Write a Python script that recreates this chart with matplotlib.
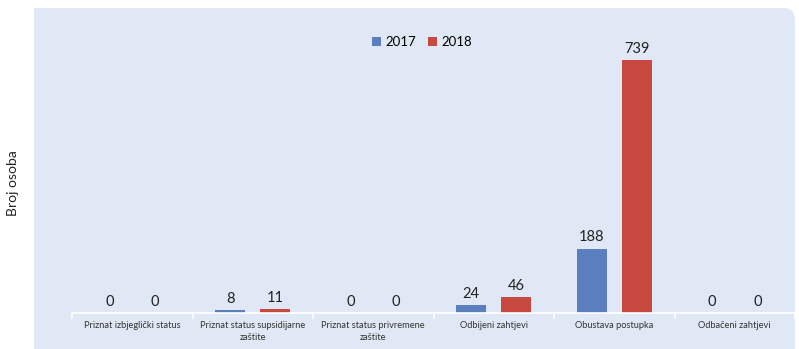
import matplotlib.pyplot as plt
import numpy as np
from matplotlib.patches import Rectangle, FancyBboxPatch
from matplotlib.transforms import IdentityTransform

categories = ['Priznat izbjeglički status', 'Priznat status supsidijarne\nzaštite',
              'Priznat status privremene\nzaštite', 'Odbijeni zahtjevi',
              'Obustava postupka', 'Odbačeni zahtjevi']
vals_2017 = [0, 8, 0, 24, 188, 0]
vals_2018 = [0, 11, 0, 46, 739, 0]
series = ['2017', '2018']
colors = ['#5B7EBE', '#C8493F']

W, H = 799, 349
fig = plt.figure(figsize=(W / 100, H / 100), dpi=100)
fig.patch.set_facecolor('white')

# light blue panel behind the chart (square on the left, rounded top-right corner)
panel_col = '#DFE8F4'
fig.add_artist(Rectangle((34, -20), 700 - 34, H - 8 + 20,
                         transform=IdentityTransform(), facecolor=panel_col,
                         edgecolor='none', zorder=-10))
fig.add_artist(FancyBboxPatch((600, -20), 795 - 600, H - 8 + 20,
                              boxstyle='round,pad=0,rounding_size=12',
                              transform=IdentityTransform(), facecolor=panel_col,
                              edgecolor='none', zorder=-10))

ax = fig.add_axes([72 / W, (H - 313) / H, (795 - 72) / W, (313 - 25) / H])
ax.set_facecolor('none')
ax.set_zorder(1)

x = np.arange(len(categories))
bw = 0.25
off = 0.187
b1 = ax.bar(x - off, vals_2017, bw, color=colors[0], label=series[0], zorder=2)
b2 = ax.bar(x + off, vals_2018, bw, color=colors[1], label=series[1], zorder=2)

for bars, vals in [(b1, vals_2017), (b2, vals_2018)]:
    for b, v in zip(bars, vals):
        ax.annotate(str(v), (b.get_x() + b.get_width() / 2, v),
                    xytext=(0, 3), textcoords='offset points',
                    ha='center', va='bottom', fontsize=10.5,
                    family='Lato', color='#222222')

ax.set_xlim(-0.5, len(categories) - 0.5)
ax.set_ylim(0, 841)
ax.set_yticks([])
for s in ['top', 'right', 'left']:
    ax.spines[s].set_visible(False)
ax.spines['bottom'].set_color('white')
ax.spines['bottom'].set_linewidth(1.2)

ax.set_xticks(x)
ax.set_xticklabels(categories, fontsize=6.7, family='Lato', color='#333333',
                   linespacing=1.35)
ax.tick_params(axis='x', which='major', length=0, pad=6)
ax.set_xticks(np.arange(-0.5, len(categories)), minor=True)
ax.tick_params(axis='x', which='minor', length=4, color='white', width=1.2)

fig.text(13 / W, 1 - 183 / H, 'Broj osoba', rotation=90, ha='center',
         va='center', fontsize=10, family='Lato', color='#222222')

ax.legend(loc='center', bbox_to_anchor=(422 / W, 1 - 42 / H),
          bbox_transform=fig.transFigure, ncol=2, frameon=False,
          prop={'family': 'Lato', 'size': 9.5}, handlelength=0.7,
          handleheight=0.7, handletextpad=0.3, columnspacing=0.9)

fig.savefig('out.png', dpi=100)
